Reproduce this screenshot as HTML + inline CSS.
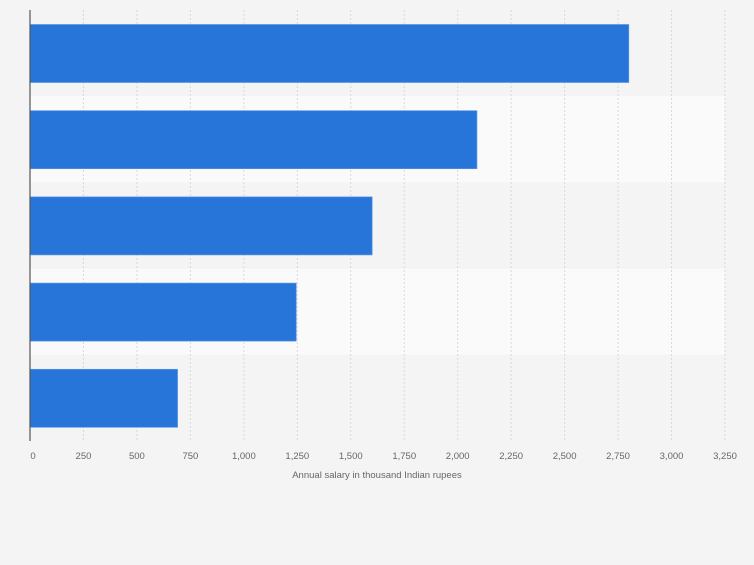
<!DOCTYPE html>
<html><head><meta charset="utf-8"><style>
body{margin:0;background:#f4f4f4;font-family:"Liberation Sans",sans-serif}
</style></head><body>
<svg id="c" width="754" height="560" xmlns="http://www.w3.org/2000/svg"></svg>
<script>
const categories=["Level 1","Level 2","Level 3","Level 4","Level 5"];
const values=[2800,2090,1600,1245,690];
const ticks=[0,250,500,750,1000,1250,1500,1750,2000,2250,2500,2750,3000,3250];
const tickLabels=["0","250","500","750","1,000","1,250","1,500","1,750","2,000","2,250","2,500","2,750","3,000","3,250"];
const svg=document.getElementById('c');const NS="http://www.w3.org/2000/svg";
const x0=30,x1=725,y0=10,y1=441,max=3250;
const X=v=>x0+(x1-x0)*v/max;
const bh=(y1-y0)/categories.length;
function mk(t,a,p){const e=document.createElementNS(NS,t);for(const k in a)e.setAttribute(k,a[k]);(p||svg).appendChild(e);return e;}
categories.forEach((c,i)=>{
 const b=mk('rect',{x:x0,y:y0+i*bh,width:x1-x0,height:bh,fill:i%2?'#fafafa':'#f4f4f4'});
 
 
});
ticks.forEach((t,i)=>{
 if(i>0){const g=mk('line',{x1:X(t),x2:X(t),y1:y0,y2:y1,stroke:'#d8d8d8','stroke-dasharray':'2,2'});
 
 }
 const l=mk('text',{x:i==0?X(t)+3:X(t),y:459,'font-size':9.5,fill:'#666','text-anchor':'middle'});
 l.textContent=tickLabels[i];
 
 
});
values.forEach((v,i)=>{
 const r=mk('rect',{x:x0,y:y0+i*bh+14.5,width:X(v)-x0,height:58,fill:'#2775d9',stroke:'#5a95e4','stroke-width':0.7});
 
 
});
const ax=mk('line',{x1:x0,x2:x0,y1:y0,y2:y1,stroke:'#555','stroke-width':1.2});


const tt=mk('text',{x:377,y:478,'font-size':9.5,fill:'#666','text-anchor':'middle'});
tt.textContent='Annual salary in thousand Indian rupees';


</script>
</body></html>
